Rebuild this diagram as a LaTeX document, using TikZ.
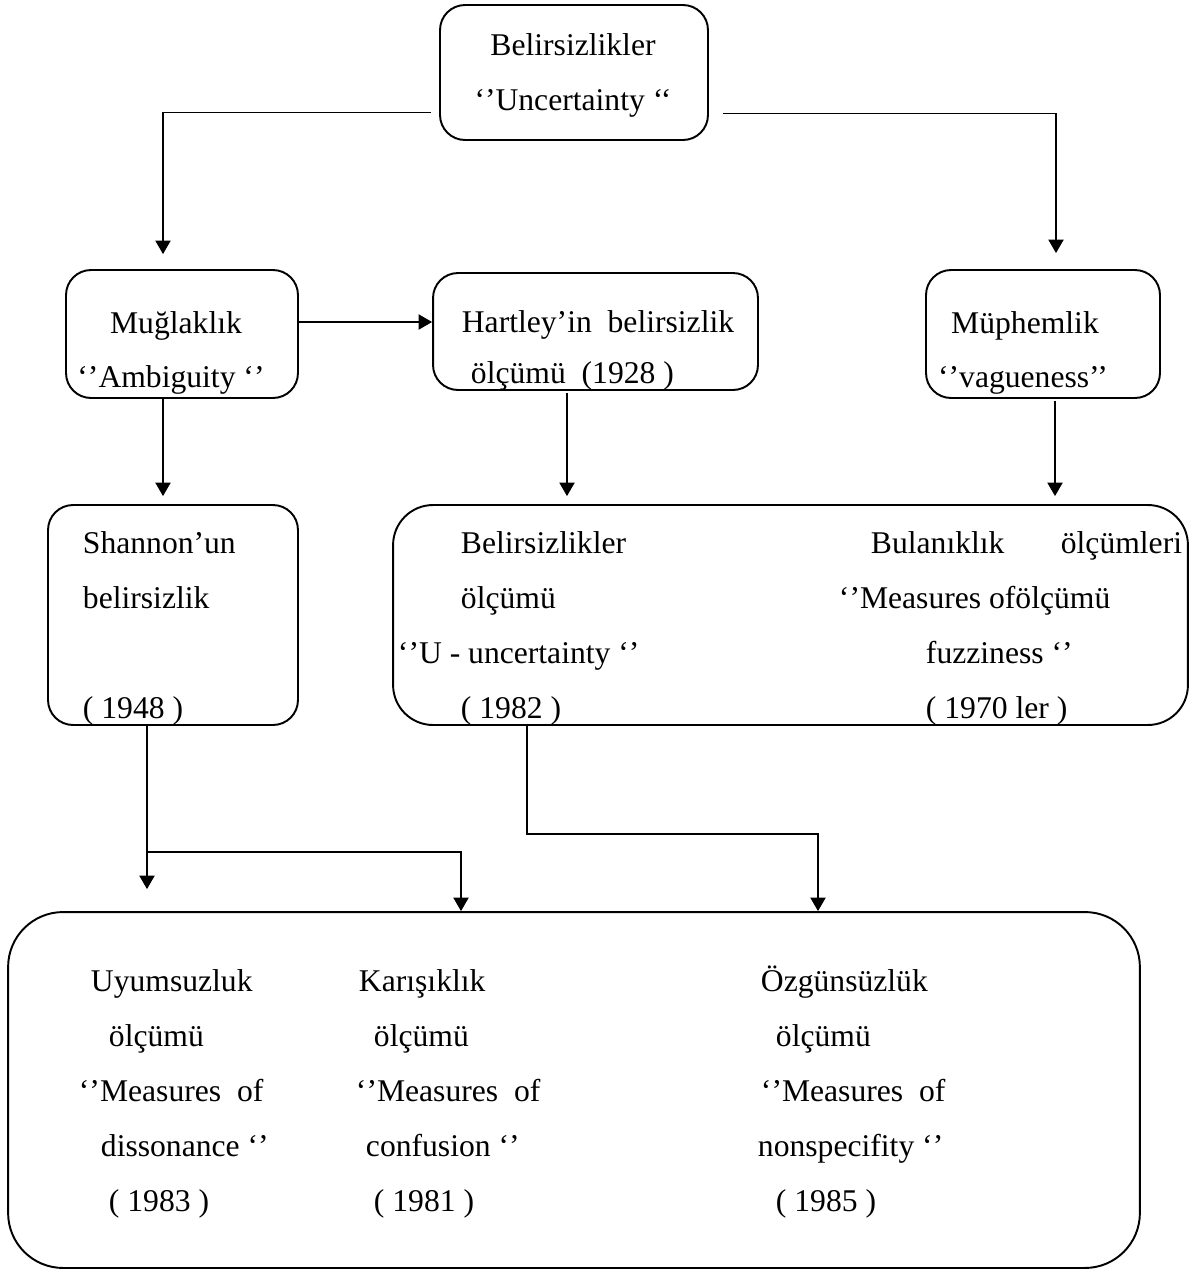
\documentclass[tikz,border=0pt]{standalone}
\usepackage{fontspec}
\setmainfont{Liberation Serif}
\usetikzlibrary{calc}
\usetikzlibrary{arrows}

\begin{document}
\begin{tikzpicture}[x=0.02cm,y=-0.02cm,>=triangle 60,line width=1.1pt,
  box/.style={draw,rounded corners=0.5cm,inner sep=0pt},
  txt/.style={inner sep=0pt,font=\fontsize{18}{21}\selectfont}]
  \useasboundingbox (0,0) rectangle (1190,1275);

  % boxes
  \node(top)  [box,minimum width=5.36cm,minimum height=2.7cm]  at (574,72.5) {};
  \node(mug)  [box,minimum width=4.64cm,minimum height=2.56cm] at (182,334) {};
  \node(hart) [box,minimum width=6.5cm,minimum height=2.34cm]  at (595.5,331.5) {};
  \node(muph) [box,minimum width=4.68cm,minimum height=2.56cm] at (1043,334) {};
  \node(shan) [box,minimum width=5cm,minimum height=4.4cm]     at (173,615) {};
  \node(mid)  [box,rounded corners=0.8cm,minimum width=15.9cm,minimum height=4.4cm] at (790.5,615) {};
  \node(bot)  [box,rounded corners=1.1cm,minimum width=22.64cm,minimum height=7.12cm] at (574,1090) {};

  % texts
  \node(topA) [txt,anchor=base] at (573,55)  {Belirsizlikler};
  \node(topB) [txt,anchor=base] at (573,110) {‘’Uncertainty ‘‘};

  \node(mugA) [txt,anchor=base] at (176,333) {Muğlaklık};
  \node(mugB) [txt,anchor=base] at (171,387) {‘’Ambiguity ‘’};
  \node(hartA) [txt,anchor=base] at (598,332) {Hartley’in~ belirsizlik};
  \node(hartB) [txt,anchor=base west] at (470,383) {ölçümü~ (1928 )};
  \node(muphA) [txt,anchor=base] at (1025,333) {Müphemlik};
  \node(muphB) [txt,anchor=base] at (1023,387) {‘’vagueness’’};

  \node(shanA) [txt,anchor=base west] at (82,553) {Shannon’un};
  \node(shanB) [txt,anchor=base west] at (82,608) {belirsizlik};
  \node(shanC) [txt,anchor=base west] at (82,718) {( 1948 )};

  \node(uA) [txt,anchor=base west] at (460,553) {Belirsizlikler};
  \node(uB) [txt,anchor=base west] at (460,608) {ölçümü};
  \node(uC) [txt,anchor=base west] at (397,663) {‘’U - uncertainty ‘’};
  \node(uD) [txt,anchor=base west] at (460,718) {( 1982 )};
  \node(fA) [txt,anchor=base west] at (870,553) {Bulanıklık};
  \node(fB) [txt,anchor=base east] at (1183,553) {ölçümleri};
  \node(fC) [txt,anchor=base west] at (838,608) {‘’Measures ofölçümü};
  \node(fD) [txt,anchor=base west] at (925,663) {fuzziness ‘’};
  \node(fE) [txt,anchor=base west] at (925,718) {( 1970 ler )};

  \node(dA) [txt,anchor=base west] at (90,991)   {Uyumsuzluk};
  \node(dB) [txt,anchor=base west] at (108,1046) {ölçümü};
  \node(dC) [txt,anchor=base west] at (78,1101)  {‘’Measures~ of};
  \node(dD) [txt,anchor=base west] at (100,1156) {dissonance ‘’};
  \node(dE) [txt,anchor=base west] at (108,1211) {( 1983 )};

  \node(cA) [txt,anchor=base west] at (358,991)  {Karışıklık};
  \node(cB) [txt,anchor=base west] at (373,1046) {ölçümü};
  \node(cC) [txt,anchor=base west] at (355,1101) {‘’Measures~ of};
  \node(cD) [txt,anchor=base west] at (365,1156) {confusion ‘’};
  \node(cE) [txt,anchor=base west] at (373,1211) {( 1981 )};

  \node(nA) [txt,anchor=base west] at (760,991)  {Özgünsüzlük};
  \node(nB) [txt,anchor=base west] at (775,1046) {ölçümü};
  \node(nC) [txt,anchor=base west] at (760,1101) {‘’Measures~ of};
  \node(nD) [txt,anchor=base west] at (757,1156) {nonspecifity ‘’};
  \node(nE) [txt,anchor=base west] at (775,1211) {( 1985 )};

  % connectors
  \draw[->] ($(top.west)+(-8,40)$) -| ($(mug.north)+(-19,-15)$);
  \draw[->] ($(top.east)+(14,41)$) -| ($(muph.north)+(13,-16)$);
  \draw[->] ($(mug.east)+(0,-12)$) -- ($(hart.west)+(0,-9.5)$);
  \draw[->,shorten >=0.16cm] ($(mug.south)+(-19,0)$) coordinate (m0) -- (m0 |- shan.north);
  \draw[->,shorten >=0.16cm] ($(hart.south)+(-28.5,2)$) coordinate (h1) -- (h1 |- mid.north);
  \draw[->,shorten >=0.16cm] ($(muph.south)+(12,2)$) coordinate (p1) -- (p1 |- mid.north);
  \draw[->,shorten >=0.44cm] ($(shan.south)+(-26,0)$) coordinate (s1) -- (s1 |- bot.north);
  \draw[->] ($(s1)+(0,126)$) -| ($(bot.north)+(-113,0)$);
  \draw[->] ($(mid.south)+(-263.5,0)$) -- ++(0,108) -| ($(bot.north)+(244,0)$);
\end{tikzpicture}
\end{document}
